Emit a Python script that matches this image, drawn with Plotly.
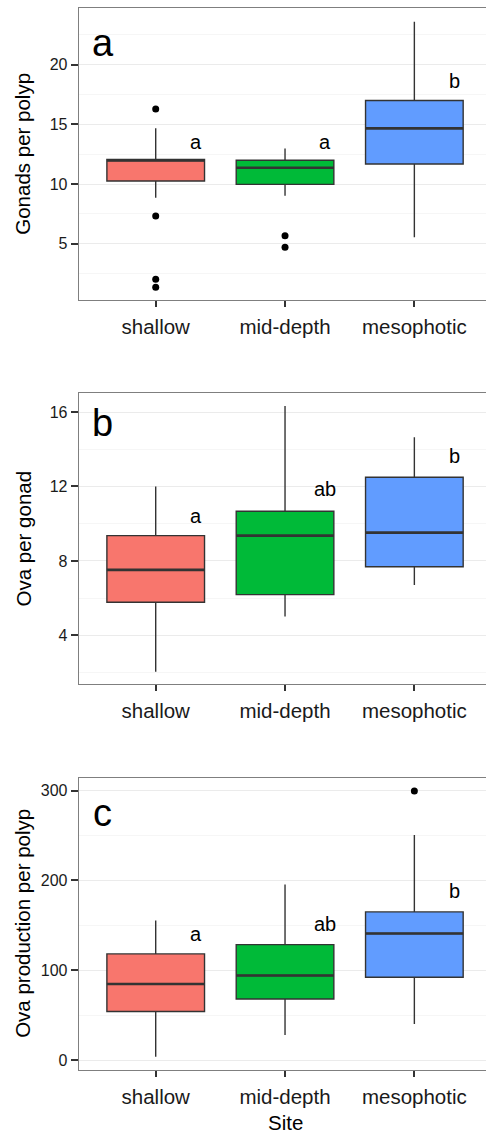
import plotly.graph_objects as go

sites = ["shallow", "mid-depth", "mesophotic"]
colors = ["#F8766D", "#00BA38", "#619CFF"]

# Panel a: Gonads per polyp
a_q1 = [10.25, 9.97, 11.68]
a_med = [11.98, 11.37, 14.67]
a_q3 = [12.07, 12.0, 17.0]
a_lo = [8.85, 9.02, 5.54]
a_hi = [14.67, 12.99, 23.6]
a_out = [[16.3, 7.32, 2.02, 1.35], [5.67, 4.7], []]
a_letters = ["a", "a", "b"]
a_lab_y = [13.55, 13.55, 18.6]

# Panel b: Ova per gonad
b_q1 = [5.78, 6.19, 7.69]
b_med = [7.52, 9.36, 9.52]
b_q3 = [9.36, 10.67, 12.5]
b_lo = [2.04, 5.02, 6.71]
b_hi = [12.0, 16.32, 14.65]
b_out = [[], [], []]
b_letters = ["a", "ab", "b"]
b_lab_y = [10.44, 11.86, 13.66]

# Panel c: Ova production per polyp
c_q1 = [54.0, 68.0, 92.2]
c_med = [84.7, 94.1, 140.9]
c_q3 = [118.2, 128.6, 165.0]
c_lo = [3.7, 27.8, 40.1]
c_hi = [155.3, 195.5, 250.7]
c_out = [[], [], [299.7]]
c_letters = ["a", "ab", "b"]
c_lab_y = [140.9, 151.6, 188.4]

panels = [
    dict(q1=a_q1, med=a_med, q3=a_q3, lo=a_lo, hi=a_hi, out=a_out, letters=a_letters, laby=a_lab_y,
         title="Gonads per polyp", tag="a", tagy=21.84, rng=[0.28, 24.8], dtick=5, minor=2.5, tick0=0,
         dom=[1 - 300 / 1135, 1 - 7.5 / 1135]),
    dict(q1=b_q1, med=b_med, q3=b_q3, lo=b_lo, hi=b_hi, out=b_out, letters=b_letters, laby=b_lab_y,
         title="Ova per gonad", tag="b", tagy=15.41, rng=[1.37, 17.04], dtick=4, minor=2, tick0=0,
         dom=[1 - 684.3 / 1135, 1 - 392.7 / 1135]),
    dict(q1=c_q1, med=c_med, q3=c_q3, lo=c_lo, hi=c_hi, out=c_out, letters=c_letters, laby=c_lab_y,
         title="Ova production per polyp", tag="c", tagy=275.5, rng=[-11.1, 314.5], dtick=100, minor=50, tick0=0,
         dom=[1 - 1070 / 1135, 1 - 777.7 / 1135]),
]

BW = 0.755
FONT = "Liberation Sans, Arial, Helvetica, sans-serif"
fig = go.Figure()
annotations = []
layout = {}

for p_i, p in enumerate(panels):
    n = "" if p_i == 0 else str(p_i + 1)
    xa, ya = "x" + n, "y" + n
    for i, s in enumerate(sites):
        fig.add_trace(go.Box(
            x=[i], q1=[p["q1"][i]], median=[p["med"][i]], q3=[p["q3"][i]],
            lowerfence=[p["lo"][i]], upperfence=[p["hi"][i]],
            width=BW, fillcolor=colors[i], line=dict(color="#333333", width=1.4),
            whiskerwidth=0, boxpoints=False, showlegend=False, xaxis=xa, yaxis=ya, hoverinfo="skip"))
        # thicker median line
        fig.add_trace(go.Scatter(
            x=[i - BW / 2, i + BW / 2], y=[p["med"][i], p["med"][i]], mode="lines",
            line=dict(color="#333333", width=2.6), showlegend=False, xaxis=xa, yaxis=ya, hoverinfo="skip"))
        if p["out"][i]:
            fig.add_trace(go.Scatter(
                x=[i] * len(p["out"][i]), y=p["out"][i], mode="markers",
                marker=dict(color="black", size=7), showlegend=False, xaxis=xa, yaxis=ya, hoverinfo="skip"))
        annotations.append(dict(x=i + 0.31, y=p["laby"][i], xref=xa, yref=ya, text=p["letters"][i],
                                showarrow=False, font=dict(size=20, color="black", family=FONT),
                                xanchor="center", yanchor="middle"))
    annotations.append(dict(x=-0.41, y=p["tagy"], xref=xa, yref=ya, text=p["tag"], showarrow=False,
                            font=dict(size=38, color="black", family=FONT), xanchor="center", yanchor="middle"))
    annotations.append(dict(x=23 / 486, y=sum(p["dom"]) / 2, xref="paper", yref="paper", text=p["title"],
                            textangle=-90, showarrow=False, font=dict(size=20.5, color="black", family=FONT),
                            xanchor="center", yanchor="middle"))
    layout["xaxis" + n] = dict(
        domain=[78.7 / 486, 1], range=[-0.5955, 2.554], anchor=ya,
        tickmode="array", tickvals=[0, 1, 2], ticktext=sites,
        ticks="outside", ticklen=6, tickwidth=1.5, tickcolor="#333333",
        tickfont=dict(size=20.5, color="#1a1a1a", family=FONT), ticklabelstandoff=2,
        showgrid=False, zeroline=False, showline=True, linecolor="#7f7f7f", linewidth=1, mirror=True)
    layout["yaxis" + n] = dict(
        domain=p["dom"], range=p["rng"], anchor=xa, tick0=p["tick0"], dtick=p["dtick"],
        ticks="outside", ticklen=7, tickwidth=1.5, tickcolor="#333333",
        tickfont=dict(size=16, color="#1a1a1a", family=FONT),
        showgrid=True, gridcolor="#ebebeb", gridwidth=1, zeroline=False,
        minor=dict(dtick=p["minor"], tick0=p["tick0"], showgrid=True, gridcolor="#f6f6f6", gridwidth=1, ticks=""),
        showline=True, linecolor="#7f7f7f", linewidth=1, mirror=True)

annotations.append(dict(x=285 / 486, y=1 - 1122.5 / 1135, xref="paper", yref="paper", text="Site",
                        showarrow=False, font=dict(size=20.5, color="black", family=FONT),
                        xanchor="center", yanchor="middle"))

fig.update_layout(
    width=486, height=1135, margin=dict(l=0, r=0, t=0, b=0),
    paper_bgcolor="white", plot_bgcolor="white", boxmode="overlay",
    annotations=annotations, **layout)

fig.write_html("out.html", config={"displayModeBar": False},
               post_script="document.body.style.margin='0';document.body.style.overflow='hidden';")
